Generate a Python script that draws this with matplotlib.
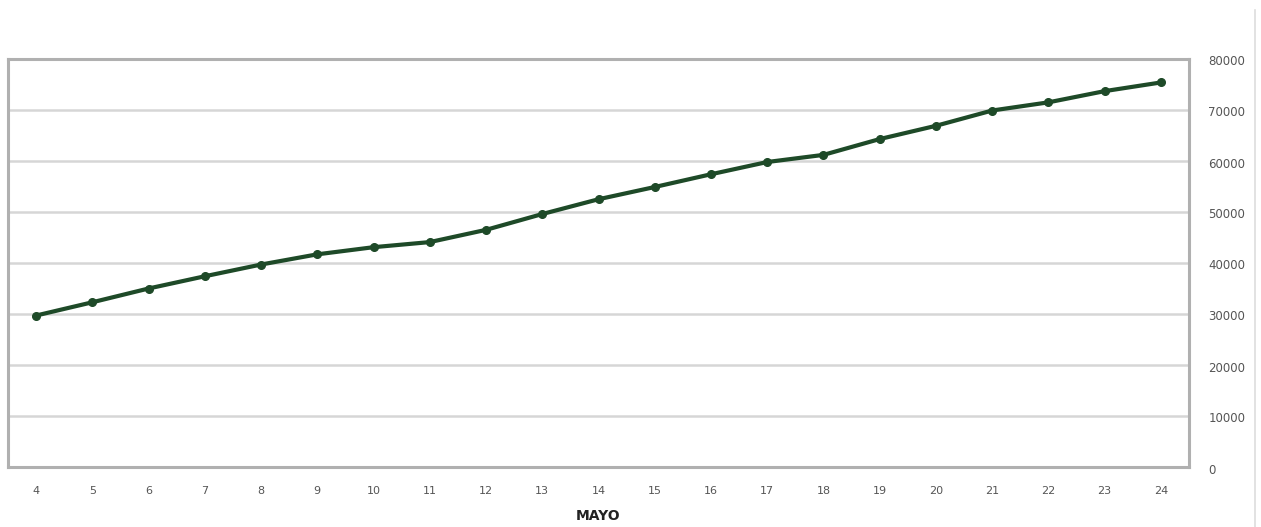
import matplotlib
matplotlib.use("Agg")
import matplotlib.pyplot as plt
import matplotlib.transforms as mtransforms

days = list(range(4, 25))
values = [29700, 32300, 35000, 37400, 39700, 41700, 43100, 44100, 46500, 49600,
          52500, 54900, 57400, 59800, 61200, 64300, 66900, 69900, 71500, 73700, 75400]
yticks = [0, 10000, 20000, 30000, 40000, 50000, 60000, 70000, 80000]
xlabel = "MAYO"

fig = plt.figure(figsize=(12.61, 5.27), dpi=100)
ax = fig.add_axes([8/1261, 1 - 467/527, (1189-8)/1261, (467-59)/527])

ax.plot(days, values, color="#1e4a28", linewidth=3.0, marker="o", markersize=5.5,
        markerfacecolor="#1e4a28", markeredgecolor="#1e4a28", solid_capstyle="round", zorder=3)

ax.set_xlim(3.5, 24.5)
ax.set_ylim(0, 80000)
ax.set_yticks(yticks)
ax.set_yticklabels([str(v) for v in yticks])
ax.set_xticks(days)
ax.yaxis.tick_right()
ax.tick_params(axis="both", length=0, colors="#555555")
ax.tick_params(axis="y", pad=14, labelsize=8.5)
ax.tick_params(axis="x", pad=14, labelsize=8)
offset = mtransforms.ScaledTranslation(0, -3/100, fig.dpi_scale_trans)
for lab in ax.get_yticklabels():
    lab.set_horizontalalignment("left")
    lab.set_verticalalignment("center")
    lab.set_transform(lab.get_transform() + offset)
ax.grid(axis="y", color="#d6d6d6", linewidth=1.8)
ax.set_axisbelow(True)
for s in ax.spines.values():
    s.set_color("#b0b0b0")
    s.set_linewidth(2.2)

ax.set_xlabel(xlabel, fontsize=10, fontweight="bold", color="#222222", labelpad=9)

# right-edge separator line
fig.add_artist(plt.Line2D([1255/1261, 1255/1261], [0, 1 - 10/527], color="#dddddd", linewidth=1.2))

fig.savefig("out.png", dpi=100, facecolor="white")
